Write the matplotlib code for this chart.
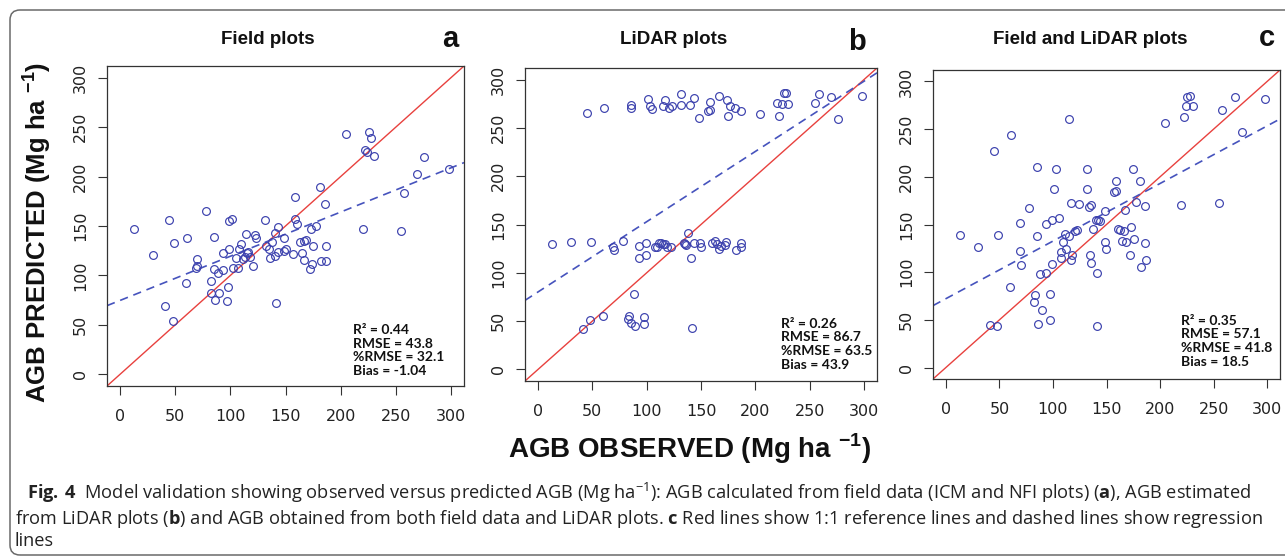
import matplotlib
matplotlib.use('Agg')
import matplotlib.pyplot as plt
from matplotlib.patches import FancyBboxPatch
from matplotlib.transforms import IdentityTransform

plt.rcParams['mathtext.fontset'] = 'custom'
plt.rcParams['mathtext.rm'] = 'Open Sans'
plt.rcParams['mathtext.bf'] = 'Open Sans:bold'

# --- data (Mg/ha) ---
a_obs = [12.7, 29.6, 40.8, 44.5, 47.5, 48.7, 59.9, 60.5, 69.5, 70.1, 68.9, 77.7, 82.6, 82.6,
         85.6, 85.3, 85.3, 88.3, 89.5, 93.1, 93.1, 97.1, 97.4, 98.6, 101.3, 98.9, 102.2, 107.3,
         107.6, 109.5, 104.9, 111.0, 114.6, 115.2, 116.4, 113.4, 117.9, 120.9, 122.4, 123.4,
         131.8, 132.1, 134.6, 135.5, 138.2, 140.3, 143.3, 140.9, 143.6, 141.2, 148.8, 148.2,
         150.0, 157.0, 158.5, 158.5, 160.3, 163.1, 164.6, 166.6, 166.9, 168.4, 172.7, 172.4,
         174.2, 175.1, 177.8, 181.7, 182.0, 186.3, 186.6, 187.2, 204.7, 220.1, 222.2, 224.1,
         225.9, 227.7, 230.4, 254.9, 257.9, 269.4, 276.1, 298.5]
a_pred = [147.1, 120.7, 69.3, 156.2, 53.4, 132.9, 92.3, 138.3, 116.7, 109.9, 107.2, 165.0, 94.4,
          82.2, 75.4, 138.7, 106.9, 102.1, 82.2, 122.8, 105.9, 73.7, 88.3, 155.2, 156.9, 126.8,
          107.9, 107.9, 126.8, 132.2, 118.0, 116.7, 142.4, 122.8, 124.1, 119.0, 118.4, 109.2,
          141.0, 137.6, 155.6, 130.2, 126.8, 117.3, 134.3, 143.1, 148.5, 120.1, 123.4, 71.7,
          137.6, 124.5, 126.5, 122.1, 179.2, 156.9, 151.8, 134.3, 122.8, 116.0, 134.9, 135.6,
          146.8, 106.9, 111.3, 129.5, 149.5, 189.7, 115.0, 171.8, 129.5, 114.3, 243.5, 147.4,
          227.3, 225.2, 244.8, 239.4, 220.5, 144.7, 183.6, 202.2, 219.5, 208.0]

b_obs = [44.9, 60.9, 85.8, 85.8, 101.1, 103.3, 105.1, 116.5, 115.3, 120.8, 123.3, 131.6, 131.6,
         140.2, 143.2, 148.5, 156.5, 158.3, 158.3, 166.9, 174.0, 174.9, 177.1, 181.7, 186.6,
         204.4, 219.8, 222.0, 224.4, 226.0, 227.8, 230.5, 254.8, 258.2, 269.6, 276.0, 298.5,
         13.2, 30.1, 49.2, 69.2, 70.1, 77.8, 93.1, 93.1, 99.0, 99.0, 107.3, 109.1, 111.3, 113.1,
         114.7, 116.5, 118.3, 122.7, 134.0, 135.2, 136.2, 137.7, 140.5, 143.2, 149.1, 149.7,
         159.8, 163.2, 164.8, 166.3, 168.8, 172.8, 172.4, 182.0, 187.2, 186.6,
         41.2, 48.0, 60.2, 83.3, 82.4, 85.8, 89.1, 88.2, 97.1, 97.1, 141.4]
b_pred = [265.6, 271.1, 274.2, 271.1, 279.4, 272.9, 269.1, 278.4, 272.5, 271.1, 272.9, 285.2,
          273.9, 273.9, 280.8, 260.5, 267.0, 276.6, 268.7, 283.2, 279.0, 262.2, 272.5, 270.4,
          267.4, 264.3, 275.9, 262.2, 274.9, 285.9, 285.9, 274.6, 275.6, 285.6, 281.8, 258.8,
          282.8,
          129.6, 131.6, 132.0, 127.1, 124.1, 132.6, 127.5, 115.5, 131.3, 118.9, 126.5, 126.5,
          131.3, 131.3, 129.9, 129.6, 127.1, 127.1, 131.3, 129.6, 128.9, 141.6, 115.5, 130.9,
          131.3, 127.1, 130.9, 133.3, 129.9, 124.7, 128.2, 132.3, 129.2, 124.1, 130.9, 126.8,
          42.3, 51.2, 55.7, 55.0, 52.2, 48.1, 45.4, 77.7, 54.0, 47.4, 42.6]

c_obs = [12.8, 29.6, 40.8, 44.9, 47.7, 48.9, 60.1, 60.7, 69.2, 69.5, 70.4, 77.9, 82.9, 82.6,
         85.3, 85.3, 85.7, 88.2, 89.4, 93.1, 93.5, 97.5, 96.9, 98.8, 99.4, 100.9, 102.5, 105.6,
         107.2, 107.8, 109.3, 111.2, 112.5, 115.0, 115.3, 116.5, 116.5, 117.8, 120.9, 122.4,
         124.0, 131.8, 131.8, 133.6, 135.5, 134.9, 135.2, 137.7, 140.2, 140.8, 141.4, 142.4,
         143.6, 148.6, 148.9, 149.8, 157.0, 158.6, 158.6, 160.4, 162.9, 164.2, 166.7, 167.0,
         168.5, 173.2, 172.3, 174.5, 175.7, 177.9, 181.6, 182.2, 186.3, 186.3, 186.9, 204.7,
         219.9, 222.1, 224.3, 225.5, 227.7, 230.5, 254.8, 257.9, 269.8, 276.3, 298.4]
c_pred = [138.7, 126.5, 44.5, 227.3, 43.8, 139.0, 84.8, 243.7, 151.6, 122.4, 107.1, 167.6, 75.8,
          69.2, 138.0, 210.0, 45.2, 98.4, 60.5, 99.1, 150.9, 77.2, 49.4, 108.1, 154.3, 187.7,
          207.9, 156.8, 115.1, 121.0, 132.1, 140.1, 123.8, 137.7, 260.4, 172.8, 113.3, 118.5,
          143.6, 144.3, 171.4, 207.9, 187.7, 167.9, 170.7, 117.5, 109.5, 145.7, 154.3, 98.7,
          43.1, 155.0, 153.3, 164.1, 131.7, 123.8, 184.2, 184.9, 195.4, 145.7, 144.3, 133.1,
          143.6, 164.8, 132.1, 147.0, 117.5, 207.9, 134.5, 173.5, 195.7, 105.7, 169.3, 130.7,
          112.6, 256.5, 170.0, 262.5, 274.3, 284.0, 284.7, 273.9, 172.4, 269.8, 283.7, 247.5,
          281.2]

# regression lines (intercept, slope) as drawn
fits = [(74.7, 0.447), (80.2, 0.727), (72.2, 0.604)]
titles = ['Field plots', 'LiDAR plots', 'Field and LiDAR plots']
letters = ['a', 'b', 'c']
stats = [['R² = 0.44', 'RMSE = 43.8', '%RMSE = 32.1', 'Bias = -1.04'],
         ['R² = 0.26', 'RMSE = 86.7', '%RMSE = 63.5', 'Bias = 43.9'],
         ['R² = 0.35', 'RMSE = 57.1', '%RMSE = 41.8', 'Bias = 18.5']]
ticks = [0, 50, 100, 150, 200, 250, 300]

W, H = 1285, 559
fig = plt.figure(figsize=(W / 100, H / 100), dpi=100)

# rounded frame around the whole figure, right side runs off the page
frame = FancyBboxPatch((10, 4), 1400, 545, boxstyle='round,pad=0,rounding_size=10',
                       transform=IdentityTransform(), fill=False, ec='#6a6a6a', lw=1.1)
fig.add_artist(frame)

boxes = [(107, 66, 464, 386), (525, 68, 877, 381), (933, 70, 1280, 379)]
title_x = [268, 674, 1090]
letter_x = [450, 857, 1267]
letter_base = [47.5, 50.5, 46.5]
stat_pos = [(0.688, 0.028), (0.728, 0.033), (0.716, 0.037)]
data = [(a_obs, a_pred), (b_obs, b_pred), (c_obs, c_pred)]

for i in range(3):
    l, t, r, b = boxes[i]
    ax = fig.add_axes([l / W, 1 - b / H, (r - l) / W, (b - t) / H])
    obs, pred = data[i]
    ax.axline((0, 0), slope=1, color='#e8413e', lw=1.0)
    ax.axline((0, fits[i][0]), slope=fits[i][1], color='#4653bd', lw=1.2, dashes=(5, 3.5))
    ax.plot(obs, pred, 'o', mfc='none', mec='#3b40ad', ms=5.6, mew=0.85)
    ax.set_xlim(-12, 312)
    ax.set_ylim(-12, 312)
    ax.set_xticks(ticks)
    ax.set_yticks(ticks)
    ax.tick_params(direction='out', length=6.5, width=0.8, labelsize=11.5,
                   color='#333333', labelcolor='#222222')
    ax.tick_params(axis='x', pad=10)
    ax.tick_params(axis='y', labelrotation=90, pad=7)
    for lbl in ax.get_yticklabels():
        lbl.set_va('center')
    for s in ax.spines.values():
        s.set_color('#333333')
        s.set_linewidth(0.9)
    ax.text(stat_pos[i][0], stat_pos[i][1], '\n'.join(stats[i]), transform=ax.transAxes,
            ha='left', va='bottom', family='Lato', fontweight='bold', fontsize=10,
            linespacing=1.16, color='#111111')

    fig.text(title_x[i] / W, 1 - 43.5 / H, titles[i], ha='center', va='baseline',
             family='Liberation Sans', fontweight='bold', fontsize=13.5, color='#111111')
    fig.text(letter_x[i] / W, 1 - letter_base[i] / H, letters[i], ha='center', va='baseline',
             family='Liberation Sans', fontweight='bold', fontsize=21, color='#111111')

fig.text(690 / W, 1 - 458 / H, r'AGB OBSERVED (Mg ha $^{\mathregular{-1}}$)', ha='center',
         va='baseline', family='Liberation Sans', fontweight='bold', fontsize=20, color='#111111')
fig.text(46 / W, 1 - 232 / H, r'AGB PREDICTED (Mg ha $^{\mathregular{-1}}$)', ha='center',
         va='baseline', rotation=90, rotation_mode='anchor', family='Liberation Sans',
         fontweight='bold', fontsize=18.5, color='#111111')

# caption
cap1 = (r'$\mathbf{Fig.\,4}$  Model validation showing observed versus predicted AGB '
        r'(Mg ha$^{\mathregular{-1}}$): AGB calculated from field data (ICM and NFI plots) '
        r'($\mathbf{a}$), AGB estimated')
cap2 = (r'from LiDAR plots ($\mathbf{b}$) and AGB obtained from both field data and LiDAR plots. '
        r'$\mathbf{c}$ Red lines show 1:1 reference lines and dashed lines show regression')
cap3 = 'lines'
for txt, x, y in [(cap1, 27, 499), (cap2, 15, 523.5), (cap3, 15, 546)]:
    fig.text(x / W, 1 - y / H, txt, ha='left', va='baseline', family='Open Sans',
             fontsize=13.15, color='#222222')

fig.savefig('out.png', dpi=100)
